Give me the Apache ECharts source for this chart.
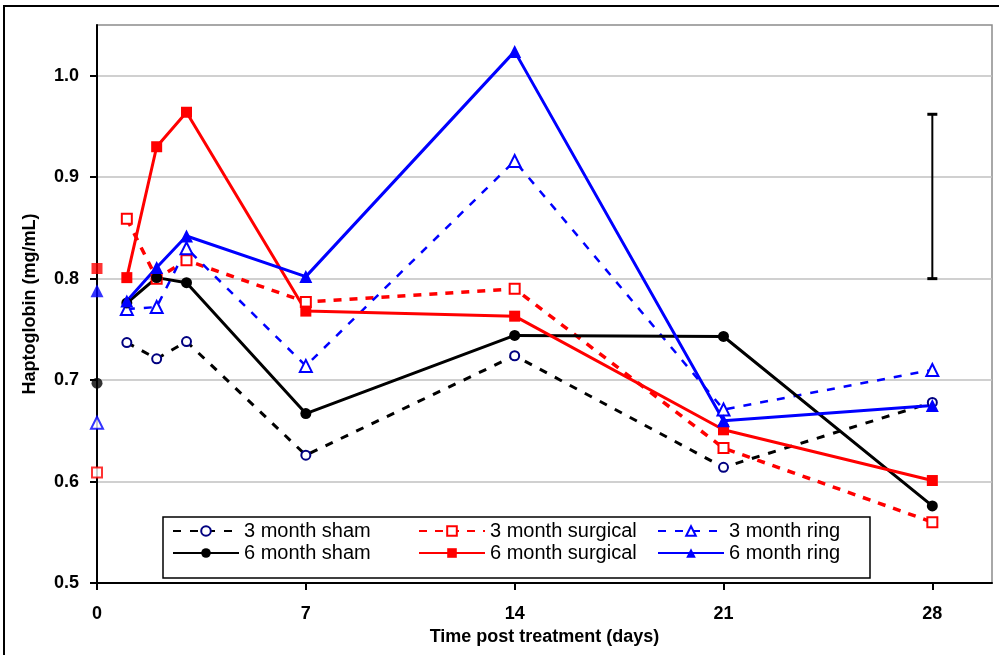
<!DOCTYPE html>
<html>
<head>
<meta charset="utf-8">
<script src="https://cdn.jsdelivr.net/npm/echarts@6/dist/echarts.min.js"></script>
<style>
html,body{margin:0;padding:0;background:#fff;}
#chart{width:999px;height:655px;}
</style>
</head>
<body>
<div id="chart"></div>
<script>
// ---- data ----
var days = [1, 2, 3, 7, 14, 21, 28];
var sham3 = [0.737, 0.721, 0.738, 0.626, 0.724, 0.614, 0.678];
var surg3 = [0.859, 0.800, 0.818, 0.777, 0.790, 0.633, 0.560];
var ring3 = [0.770, 0.772, 0.830, 0.714, 0.916, 0.671, 0.710];
var sham6 = [0.776, 0.801, 0.796, 0.667, 0.744, 0.743, 0.576];
var surg6 = [0.801, 0.930, 0.964, 0.768, 0.763, 0.651, 0.601];
var ring6 = [0.778, 0.811, 0.842, 0.802, 1.024, 0.660, 0.675];
// baseline (day 0) values, drawn unconnected
var base0Day = 0;
var base0 = { surg3: 0.609, ring3: 0.658, sham6: 0.697, surg6: 0.810, ring6: 0.788 };
// error bar (day, low, high)
var errBar = [28, 0.800, 0.962];
var xTicks = [0, 7, 14, 21, 28];
var yTicks = [0.5, 0.6, 0.7, 0.8, 0.9, 1.0];
var names = ['3 month sham', '3 month surgical', '3 month ring', '6 month sham', '6 month surgical', '6 month ring'];

function pairs(vals) { return days.map(function (d, i) { return [d, vals[i]]; }); }

var FONT = '"Liberation Sans", Arial, sans-serif';

var styles = {
  '3 month sham':     { line: '#000000', w: 3,   type: [8, 9], sym: 'circle',   size: 9,  fill: '#ffffff', border: '#000080', bw: 2 },
  '3 month surgical': { line: '#ff0000', w: 3.5, type: [8, 8], sym: 'rect',     size: 10, fill: '#ffffff', border: '#ff0000', bw: 2 },
  '3 month ring':     { line: '#0000ff', w: 2.5, type: [8, 9], sym: 'triangle', size: 12, fill: '#ffffff', border: '#0000ff', bw: 2 },
  '6 month sham':     { line: '#000000', w: 3,   type: 'solid', sym: 'circle',   size: 11, fill: '#000000', border: '#000000', bw: 0 },
  '6 month surgical': { line: '#ff0000', w: 3,   type: 'solid', sym: 'rect',     size: 11, fill: '#ff0000', border: '#ff0000', bw: 0 },
  '6 month ring':     { line: '#0000ff', w: 3,   type: 'solid', sym: 'triangle', size: 13, fill: '#0000ff', border: '#0000ff', bw: 0 }
};
var seriesVals = {
  '3 month sham': sham3, '3 month surgical': surg3, '3 month ring': ring3,
  '6 month sham': sham6, '6 month surgical': surg6, '6 month ring': ring6
};
var baseKey = {
  '3 month surgical': 'surg3', '3 month ring': 'ring3',
  '6 month sham': 'sham6', '6 month surgical': 'surg6', '6 month ring': 'ring6'
};

var series = [];
names.forEach(function (n) {
  var s = styles[n];
  series.push({
    name: n, type: 'line', data: pairs(seriesVals[n]),
    symbol: s.sym, symbolSize: s.size, showAllSymbol: true,
    lineStyle: { color: s.line, width: s.w, type: s.type },
    itemStyle: { color: s.fill, borderColor: s.border, borderWidth: s.bw },
    emphasis: { disabled: true }, animation: false, z: 3
  });
});
Object.keys(baseKey).forEach(function (n) {
  var s = styles[n];
  series.push({
    name: n + ' baseline', type: 'scatter', data: [[base0Day, base0[baseKey[n]]]],
    symbol: s.sym, symbolSize: s.size,
    itemStyle: { color: s.fill, borderColor: s.border, borderWidth: s.bw },
    emphasis: { disabled: true }, animation: false, z: 4
  });
});
series.push({
  name: 'error', type: 'custom', animation: false, z: 4,
  data: [errBar],
  renderItem: function (params, api) {
    var lo = api.coord([api.value(0), api.value(1)]);
    var hi = api.coord([api.value(0), api.value(2)]);
    var hw = 5;
    return { type: 'group', children: [
      { type: 'line', shape: { x1: lo[0], y1: lo[1], x2: hi[0], y2: hi[1] }, style: { stroke: '#000', lineWidth: 2 } },
      { type: 'line', shape: { x1: lo[0] - hw, y1: lo[1], x2: lo[0] + hw, y2: lo[1] }, style: { stroke: '#000', lineWidth: 3 } },
      { type: 'line', shape: { x1: hi[0] - hw, y1: hi[1], x2: hi[0] + hw, y2: hi[1] }, style: { stroke: '#000', lineWidth: 3 } }
    ] };
  }
});

var legendPos = [[172, 521], [418, 521], [657, 521], [172, 543], [418, 543], [657, 543]];
var legends = names.map(function (n, i) {
  return {
    data: [n], left: legendPos[i][0], top: legendPos[i][1], padding: 0,
    itemWidth: 66, itemHeight: 12, itemGap: 0, selectedMode: false, z: 10,
    textStyle: { fontFamily: FONT, fontSize: 20, color: '#000' }
  };
});

var chart = echarts.init(document.getElementById('chart'), null, { renderer: 'canvas' });
chart.setOption({
  animation: false,
  backgroundColor: '#fff',
  grid: { left: 97, right: 7, top: 25, bottom: 72, show: true, borderColor: '#8c8c8c', borderWidth: 1.5, containLabel: false },
  xAxis: {
    type: 'value', min: 0, max: 30, interval: 7,
    name: 'Time post treatment (days)', nameLocation: 'middle', nameGap: 44,
    nameTextStyle: { fontFamily: FONT, fontSize: 18, fontWeight: 'bold', color: '#000' },
    axisLine: { show: true, onZero: false, lineStyle: { color: '#000', width: 2 } },
    axisTick: { show: true, inside: false, length: 7, lineStyle: { color: '#000', width: 2 }, customValues: xTicks },
    axisLabel: { margin: 22, fontFamily: FONT, fontSize: 18, fontWeight: 'bold', color: '#000', customValues: xTicks },
    splitLine: { show: false }
  },
  yAxis: {
    type: 'value', min: 0.5, max: 1.05, interval: 0.1,
    name: 'Haptoglobin (mg/mL)', nameLocation: 'middle', nameGap: 58, nameRotate: 90,
    nameTextStyle: { fontFamily: FONT, fontSize: 18, fontWeight: 'bold', color: '#000' },
    axisLine: { show: true, lineStyle: { color: '#000', width: 2 } },
    axisTick: { show: true, inside: false, length: 7, lineStyle: { color: '#000', width: 2 }, customValues: yTicks },
    axisLabel: { margin: 18, fontFamily: FONT, fontSize: 18, fontWeight: 'bold', color: '#000', customValues: yTicks,
      formatter: function (v) { return Number(v).toFixed(1); } },
    splitLine: { show: true, lineStyle: { color: '#c0c0c0', width: 1.5 } }
  },
  legend: legends,
  graphic: [
    { type: 'rect', z: 0, silent: true, shape: { x: 4, y: 6, width: 1010, height: 720 }, style: { fill: 'none', stroke: '#000', lineWidth: 2 } },
    { type: 'rect', z: 5, silent: true, shape: { x: 163, y: 517, width: 707, height: 61 }, style: { fill: '#fff', stroke: '#000', lineWidth: 1.5 } }
  ],
  series: series
});
</script>
</body>
</html>
